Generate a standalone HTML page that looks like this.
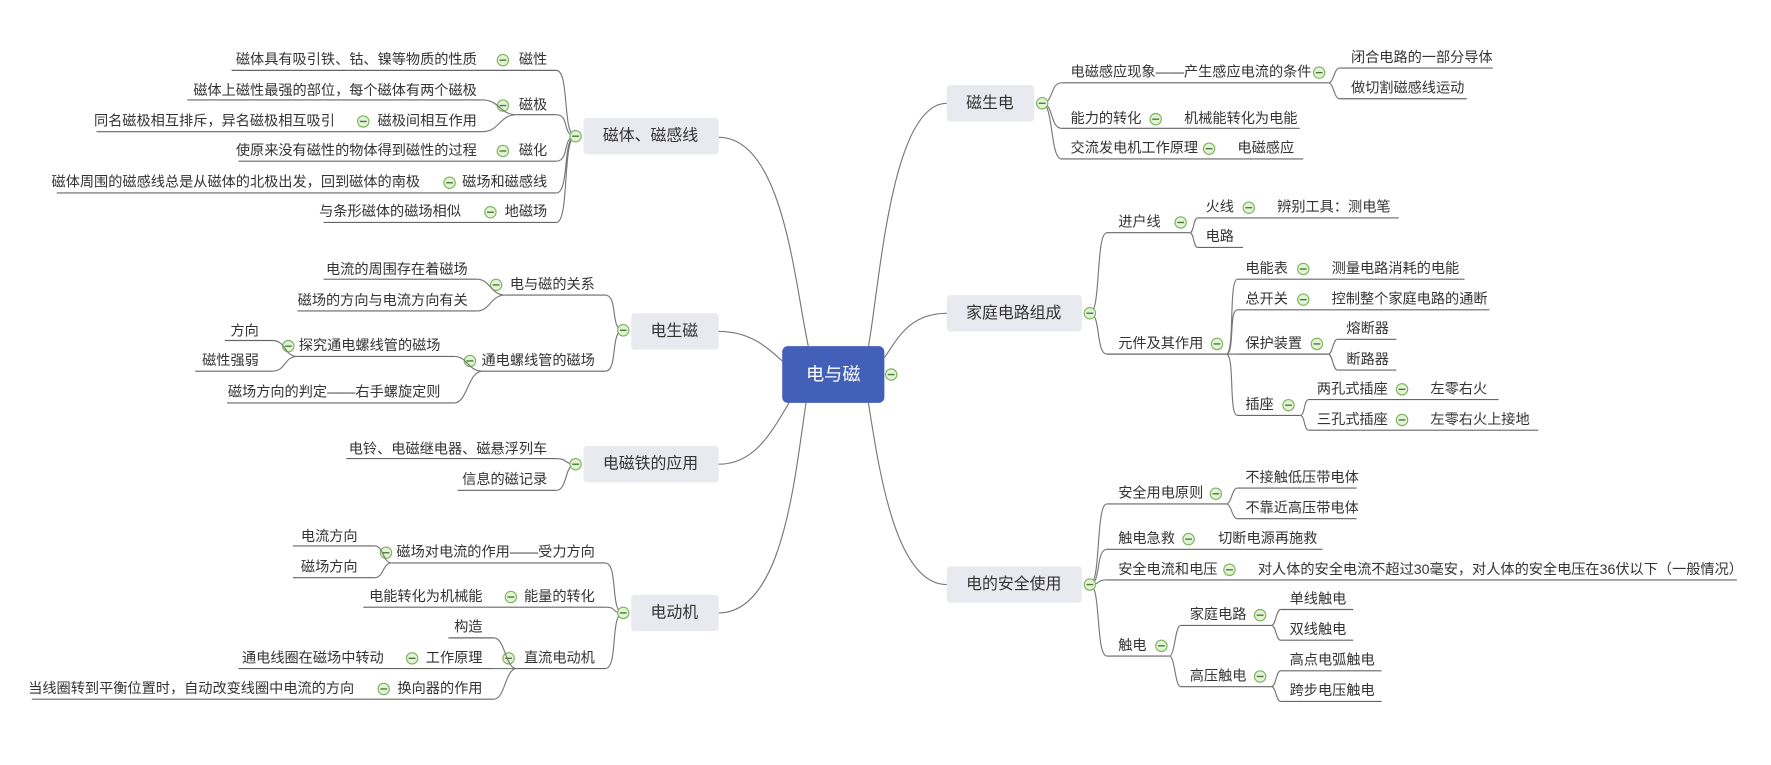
<!DOCTYPE html>
<html><head><meta charset="utf-8"><style>
html,body{margin:0;padding:0;background:#fff;width:1771px;height:765px;overflow:hidden}
svg{display:block}
text{font-family:"Liberation Sans","Noto Sans CJK SC",sans-serif;font-size:12.5px;fill:#333;dominant-baseline:central}
.l{stroke:#666;stroke-width:1;fill:none}
.c{stroke:#777;stroke-width:1;fill:none}
.b{font-size:14px;text-anchor:middle;fill:#333}
.e{text-anchor:end}
</style></head><body>
<svg width="1771" height="765" viewBox="0 0 1560 674" preserveAspectRatio="none">
<defs>
<g id="m"><circle r="5" fill="#e3f2d6" stroke="#7ab55c" stroke-width="1"/><line x1="-3" y1="0" x2="3" y2="0" stroke="#4a7a35" stroke-width="1.2"/></g>
</defs>
<!-- central connectors -->
<path class="c" d="M633,121 C690,121 700,250 712,305"/>
<path class="c" d="M633,292 C660,292 675,305 689,318"/>
<path class="c" d="M633,409 C665,409 680,380 695,355"/>
<path class="c" d="M633,540 C690,540 700,420 710,355"/>
<path class="c" d="M834,91 C785,91 775,250 765,305"/>
<path class="c" d="M834,276 C800,276 790,300 779,315"/>
<path class="c" d="M834,515 C790,515 775,420 765,355"/>

<!-- central -->
<rect x="689" y="305" width="90" height="50" rx="5" fill="#4360b8"/>
<text x="734" y="330" class="b" style="fill:#fff;font-size:16px">电与磁</text>
<use href="#m" x="785" y="330"/>

<!-- boxes -->
<rect x="514" y="104" width="119" height="32" rx="3" fill="#e9e9f0"/><text x="573" y="120" class="b">磁体、磁感线</text>
<rect x="556" y="276" width="77" height="32" rx="3" fill="#e9e9f0"/><text x="594" y="292" class="b">电生磁</text>
<rect x="514" y="393" width="119" height="32" rx="3" fill="#e9e9f0"/><text x="573" y="409" class="b">电磁铁的应用</text>
<rect x="556" y="524" width="77" height="32" rx="3" fill="#e9e9f0"/><text x="594" y="540" class="b">电动机</text>
<rect x="834" y="75" width="77" height="32" rx="3" fill="#e9e9f0"/><text x="872" y="91" class="b">磁生电</text>
<rect x="834" y="260" width="119" height="32" rx="3" fill="#e9e9f0"/><text x="893" y="276" class="b">家庭电路组成</text>
<rect x="834" y="499" width="119" height="32" rx="3" fill="#e9e9f0"/><text x="893" y="515" class="b">电的安全使用</text>

<!-- LEFT group1 -->
<path class="c" d="M507,120 C495,120 502,62 490,62 M507,120 C495,120 502,101 490,101 M507,120 C495,120 502,142 490,142 M507,120 C495,120 502,170 490,170 M507,120 C495,120 502,196 490,196"/>
<line class="l" x1="204" y1="62" x2="490" y2="62"/>
<text x="420" y="53" class="e">磁体具有吸引铁、钴、镍等物质的性质</text><use href="#m" x="443" y="53"/><text x="482" y="53" class="e">磁性</text>
<line class="l" x1="455" y1="101" x2="490" y2="101"/>
<text x="482" y="93" class="e">磁极</text><use href="#m" x="443" y="93"/>
<path class="c" d="M455,101 C440,101 440,88 425,88 M455,101 C440,101 440,116 425,116"/>
<line class="l" x1="165" y1="88" x2="425" y2="88"/>
<text x="420" y="80" class="e">磁体上磁性最强的部位，每个磁体有两个磁极</text>
<line class="l" x1="85" y1="116" x2="425" y2="116"/>
<text x="295" y="107" class="e">同名磁极相互排斥，异名磁极相互吸引</text><use href="#m" x="320" y="107"/><text x="420" y="107" class="e">磁极间相互作用</text>
<line class="l" x1="210" y1="142" x2="490" y2="142"/>
<text x="420" y="133" class="e">使原来没有磁性的物体得到磁性的过程</text><use href="#m" x="443" y="133"/><text x="482" y="133" class="e">磁化</text>
<line class="l" x1="50" y1="170" x2="490" y2="170"/>
<text x="370" y="161" class="e">磁体周围的磁感线总是从磁体的北极出发，回到磁体的南极</text><use href="#m" x="396" y="161"/><text x="482" y="161" class="e">磁场和磁感线</text>
<line class="l" x1="285" y1="196" x2="490" y2="196"/>
<text x="406" y="187" class="e">与条形磁体的磁场相似</text><use href="#m" x="432" y="187"/><text x="482" y="187" class="e">地磁场</text>
<use href="#m" x="507" y="120"/>

<!-- LEFT group2 -->
<path class="c" d="M549,291 C537,291 545,260 533,260 M549,291 C537,291 545,327 533,327"/>
<line class="l" x1="445" y1="260" x2="533" y2="260"/>
<text x="524" y="251" class="e">电与磁的关系</text><use href="#m" x="437" y="251"/>
<path class="c" d="M445,260 C432,260 432,246 420,246 M445,260 C432,260 432,274 420,274"/>
<line class="l" x1="285" y1="246" x2="420" y2="246"/><text x="412" y="238" class="e">电流的周围存在着磁场</text>
<line class="l" x1="262" y1="274" x2="420" y2="274"/><text x="412" y="265" class="e">磁场的方向与电流方向有关</text>
<line class="l" x1="425" y1="327" x2="533" y2="327"/>
<text x="524" y="318" class="e">通电螺线管的磁场</text><use href="#m" x="414" y="318"/>
<path class="c" d="M425,327 C412,327 412,314 400,314 M425,327 C412,327 412,355 400,355"/>
<line class="l" x1="262" y1="314" x2="400" y2="314"/><text x="388" y="305" class="e">探究通电螺线管的磁场</text><use href="#m" x="254" y="305"/>
<path class="c" d="M262,314 C250,314 252,300 240,300 M262,314 C250,314 252,327 240,327"/>
<line class="l" x1="198" y1="300" x2="240" y2="300"/><text x="228" y="292" class="e">方向</text>
<line class="l" x1="172" y1="327" x2="240" y2="327"/><text x="228" y="318" class="e">磁性强弱</text>
<line class="l" x1="200" y1="355" x2="400" y2="355"/><text x="388" y="346" class="e">磁场方向的判定——右手螺旋定则</text>
<use href="#m" x="549" y="291"/>

<!-- LEFT group3 -->
<path class="c" d="M507,409 C497,409 500,404 490,404 M507,409 C497,409 500,432 490,432"/>
<line class="l" x1="305" y1="404" x2="490" y2="404"/><text x="482" y="396" class="e">电铃、电磁继电器、磁悬浮列车</text>
<line class="l" x1="403" y1="432" x2="490" y2="432"/><text x="482" y="423" class="e">信息的磁记录</text>
<use href="#m" x="507" y="409"/>

<!-- LEFT group4 -->
<path class="c" d="M549,540 C537,540 545,496 533,496 M549,540 C537,540 545,535 533,535 M549,540 C537,540 545,589 533,589"/>
<line class="l" x1="345" y1="496" x2="533" y2="496"/>
<text x="524" y="487" class="e">磁场对电流的作用——受力方向</text><use href="#m" x="340" y="487"/>
<path class="c" d="M345,496 C337,496 338,481 330,481 M345,496 C337,496 338,509 330,509"/>
<line class="l" x1="258" y1="481" x2="330" y2="481"/><text x="315" y="473" class="e">电流方向</text>
<line class="l" x1="258" y1="509" x2="330" y2="509"/><text x="315" y="500" class="e">磁场方向</text>
<line class="l" x1="320" y1="535" x2="533" y2="535"/>
<text x="425" y="526" class="e">电能转化为机械能</text><use href="#m" x="450" y="526"/><text x="524" y="526" class="e">能量的转化</text>
<line class="l" x1="455" y1="589" x2="533" y2="589"/>
<text x="524" y="580" class="e">直流电动机</text><use href="#m" x="448" y="580"/>
<path class="c" d="M455,589 C445,589 445,562 435,562 M455,589 C445,589 445,589 435,589 M455,589 C445,589 445,616 435,616"/>
<line class="l" x1="395" y1="562" x2="435" y2="562"/><text x="425" y="553" class="e">构造</text>
<line class="l" x1="210" y1="589" x2="435" y2="589"/>
<text x="338" y="580" class="e">通电线圈在磁场中转动</text><use href="#m" x="363" y="580"/><text x="425" y="580" class="e">工作原理</text>
<line class="l" x1="28" y1="616" x2="435" y2="616"/>
<text x="312" y="607" class="e">当线圈转到平衡位置时，自动改变线圈中电流的方向</text><use href="#m" x="338" y="607"/><text x="425" y="607" class="e">换向器的作用</text>
<use href="#m" x="549" y="540"/>

<!-- RIGHT 磁生电 -->
<path class="c" d="M918,91 C928,91 925,73 935,73 M918,91 C928,91 925,113 935,113 M918,91 C928,91 925,140 935,140"/>
<line class="l" x1="935" y1="73" x2="1170" y2="73"/>
<text x="943" y="64">电磁感应现象——产生感应电流的条件</text><use href="#m" x="1162" y="64"/>
<path class="c" d="M1170,73 C1175,73 1175,60 1180,60 M1170,73 C1175,73 1175,87 1180,87"/>
<line class="l" x1="1180" y1="60" x2="1315" y2="60"/><text x="1190" y="51">闭合电路的一部分导体</text>
<line class="l" x1="1180" y1="87" x2="1292" y2="87"/><text x="1190" y="78">做切割磁感线运动</text>
<line class="l" x1="935" y1="113" x2="1145" y2="113"/>
<text x="943" y="105">能力的转化</text><use href="#m" x="1018" y="105"/><text x="1043" y="105">机械能转化为电能</text>
<line class="l" x1="935" y1="140" x2="1148" y2="140"/>
<text x="943" y="131">交流发电机工作原理</text><use href="#m" x="1065" y="131"/><text x="1090" y="131">电磁感应</text>
<use href="#m" x="918" y="91"/>

<!-- RIGHT 家庭电路 -->
<path class="c" d="M960,276 C970,276 965,205 975,205 M960,276 C970,276 965,312 975,312"/>
<line class="l" x1="975" y1="205" x2="1048" y2="205"/>
<text x="985" y="196">进户线</text><use href="#m" x="1040" y="196"/>
<path class="c" d="M1048,205 C1052,205 1051,192 1055,192 M1048,205 C1052,205 1051,218 1055,218"/>
<line class="l" x1="1055" y1="192" x2="1232" y2="192"/>
<text x="1062" y="183">火线</text><use href="#m" x="1100" y="183"/><text x="1125" y="183">辨别工具：测电笔</text>
<line class="l" x1="1055" y1="218" x2="1095" y2="218"/><text x="1062" y="209">电路</text>
<line class="l" x1="975" y1="312" x2="1080" y2="312"/>
<text x="985" y="303">元件及其作用</text><use href="#m" x="1072" y="303"/>
<path class="c" d="M1080,312 C1088,312 1082,246 1090,246 M1080,312 C1088,312 1082,273 1090,273 M1080,312 L1090,312 M1080,312 C1088,312 1082,366 1090,366"/>
<line class="l" x1="1090" y1="246" x2="1290" y2="246"/>
<text x="1097" y="237">电能表</text><use href="#m" x="1148" y="237"/><text x="1173" y="237">测量电路消耗的电能</text>
<line class="l" x1="1090" y1="273" x2="1312" y2="273"/>
<text x="1097" y="264">总开关</text><use href="#m" x="1148" y="264"/><text x="1173" y="264">控制整个家庭电路的通断</text>
<line class="l" x1="1090" y1="312" x2="1170" y2="312"/>
<text x="1097" y="303">保护装置</text><use href="#m" x="1160" y="303"/>
<path class="c" d="M1170,312 C1174,312 1174,299 1178,299 M1170,312 C1174,312 1174,326 1178,326"/>
<line class="l" x1="1178" y1="299" x2="1230" y2="299"/><text x="1186" y="290">熔断器</text>
<line class="l" x1="1178" y1="326" x2="1230" y2="326"/><text x="1186" y="317">断路器</text>
<line class="l" x1="1090" y1="366" x2="1145" y2="366"/>
<text x="1097" y="357">插座</text><use href="#m" x="1135" y="357"/>
<path class="c" d="M1145,366 C1150,366 1148,352 1153,352 M1145,366 C1150,366 1148,379 1153,379"/>
<line class="l" x1="1153" y1="352" x2="1320" y2="352"/>
<text x="1160" y="343">两孔式插座</text><use href="#m" x="1235" y="343"/><text x="1260" y="343">左零右火</text>
<line class="l" x1="1153" y1="379" x2="1355" y2="379"/>
<text x="1160" y="370">三孔式插座</text><use href="#m" x="1235" y="370"/><text x="1260" y="370">左零右火上接地</text>
<use href="#m" x="960" y="276"/>

<!-- RIGHT 安全 -->
<path class="c" d="M960,515 C970,515 965,444 975,444 M960,515 C970,515 965,484 975,484 M960,515 C970,515 965,511 975,511 M960,515 C970,515 965,578 975,578"/>
<line class="l" x1="975" y1="444" x2="1080" y2="444"/>
<text x="985" y="435">安全用电原则</text><use href="#m" x="1071" y="435"/>
<path class="c" d="M1080,444 C1085,444 1085,430 1090,430 M1080,444 C1085,444 1085,457 1090,457"/>
<line class="l" x1="1090" y1="430" x2="1195" y2="430"/><text x="1097" y="421">不接触低压带电体</text>
<line class="l" x1="1090" y1="457" x2="1195" y2="457"/><text x="1097" y="448">不靠近高压带电体</text>
<line class="l" x1="975" y1="484" x2="1165" y2="484"/>
<text x="985" y="475">触电急救</text><use href="#m" x="1047" y="475"/><text x="1073" y="475">切断电源再施救</text>
<line class="l" x1="975" y1="511" x2="1530" y2="511"/>
<text x="985" y="502">安全电流和电压</text><use href="#m" x="1083" y="502"/><text x="1108" y="502">对人体的安全电流不超过30毫安，对人体的安全电压在36伏以下（一般情况）</text>
<line class="l" x1="975" y1="578" x2="1030" y2="578"/>
<text x="985" y="569">触电</text><use href="#m" x="1023" y="569"/>
<path class="c" d="M1030,578 C1035,578 1035,551 1040,551 M1030,578 C1035,578 1035,605 1040,605"/>
<line class="l" x1="1040" y1="551" x2="1120" y2="551"/>
<text x="1048" y="542">家庭电路</text><use href="#m" x="1110" y="542"/>
<path class="c" d="M1120,551 C1124,551 1124,537 1128,537 M1120,551 C1124,551 1124,564 1128,564"/>
<line class="l" x1="1128" y1="537" x2="1192" y2="537"/><text x="1136" y="528">单线触电</text>
<line class="l" x1="1128" y1="564" x2="1192" y2="564"/><text x="1136" y="555">双线触电</text>
<line class="l" x1="1040" y1="605" x2="1120" y2="605"/>
<text x="1048" y="596">高压触电</text><use href="#m" x="1110" y="596"/>
<path class="c" d="M1120,605 C1124,605 1124,591 1128,591 M1120,605 C1124,605 1124,618 1128,618"/>
<line class="l" x1="1128" y1="591" x2="1217" y2="591"/><text x="1136" y="582">高点电弧触电</text>
<line class="l" x1="1128" y1="618" x2="1217" y2="618"/><text x="1136" y="609">跨步电压触电</text>
<use href="#m" x="960" y="515"/>
</svg>
</body></html>
